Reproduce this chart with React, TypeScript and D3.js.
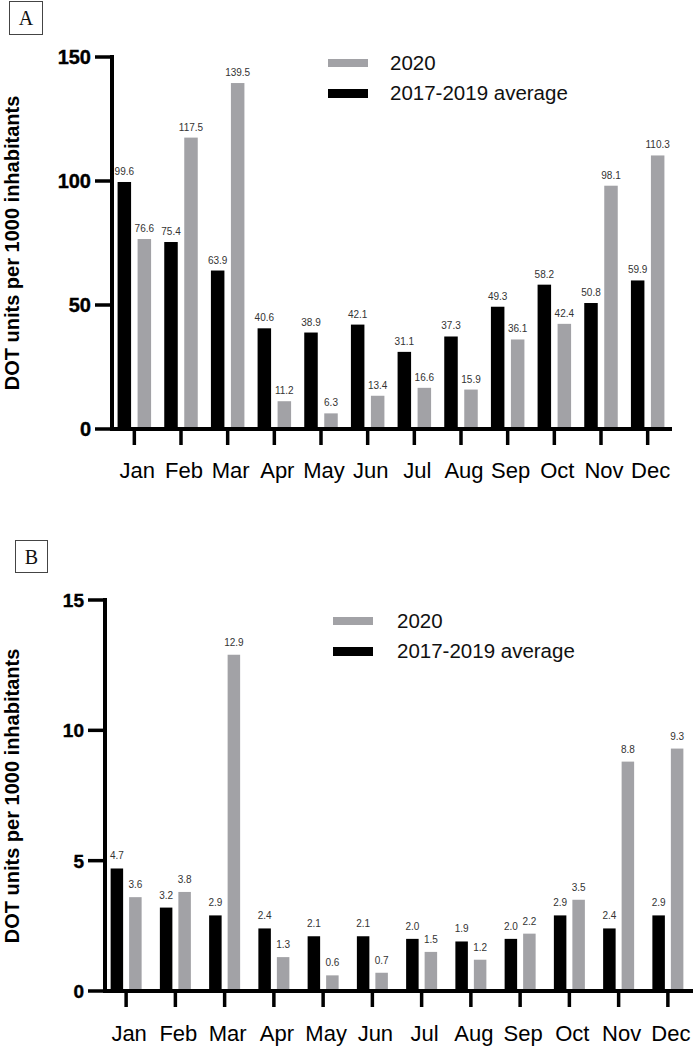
import React from "react";
import * as d3 from "d3";

const months = ["Jan", "Feb", "Mar", "Apr", "May", "Jun", "Jul", "Aug", "Sep", "Oct", "Nov", "Dec"];
const seriesNames = ["2020", "2017-2019 average"];

const avgA = [99.6, 75.4, 63.9, 40.6, 38.9, 42.1, 31.1, 37.3, 49.3, 58.2, 50.8, 59.9];
const y2020A = [76.6, 117.5, 139.5, 11.2, 6.3, 13.4, 16.6, 15.9, 36.1, 42.4, 98.1, 110.3];
const ticksA = [0, 50, 100, 150];

const avgB = [4.7, 3.2, 2.9, 2.4, 2.1, 2.1, 2.0, 1.9, 2.0, 2.9, 2.4, 2.9];
const y2020B = [3.6, 3.8, 12.9, 1.3, 0.6, 0.7, 1.5, 1.2, 2.2, 3.5, 8.8, 9.3];
const ticksB = [0, 5, 10, 15];

const GRAY = "#a2a2a6";
const FONT = "'Liberation Sans', Arial, sans-serif";

type PanelProps = {
  letter: string;
  letterBox: [number, number, number, number];
  avg: number[];
  cur: number[];
  ticks: number[];
  yMax: number;
  axisX: number;
  y0: number;
  yTop: number;
  xRange: [number, number];
  barW: number;
  gap: number;
  tickFont: number;
  tickLabelRight: number;
  titleCy: number;
  xLabelBaseline: number;
  legendX: number;
  legendY: number;
  legendTextX: number;
  labelGap: number;
};

function Panel(p: PanelProps) {
  const y = d3.scaleLinear().domain([0, p.yMax]).range([p.y0, p.yTop]);
  const x = d3.scaleBand<string>().domain(months).range(p.xRange).padding(0);
  const half = (p.barW * 2 + p.gap) / 2;
  const fmt = (v: number) => v.toFixed(1);
  return (
    <g>
      <rect x={p.letterBox[0]} y={p.letterBox[1]} width={p.letterBox[2]} height={p.letterBox[3]} fill="white" stroke="#444" strokeWidth={1} />
      <text x={p.letterBox[0] + p.letterBox[2] / 2} y={p.letterBox[1] + p.letterBox[3] / 2 + 7} textAnchor="middle" fontFamily="'Liberation Serif', 'Times New Roman', serif" fontSize={20} fill="#111">{p.letter}</text>

      <text transform={`translate(12,${p.titleCy}) rotate(-90)`} textAnchor="middle" dominantBaseline="central" fontFamily={FONT} fontWeight="bold" fontSize={20} fill="#000">DOT units per 1000 inhabitants</text>

      {months.map((m, i) => {
        const c = (x(m) as number) + x.bandwidth() / 2;
        const bx = c - half;
        const gx = c - half + p.barW + p.gap;
        return (
          <g key={m}>
            <rect x={bx} y={y(p.avg[i])} width={p.barW} height={p.y0 - y(p.avg[i])} fill="#000" />
            <rect x={gx} y={y(p.cur[i])} width={p.barW} height={p.y0 - y(p.cur[i])} fill={GRAY} />
            <text x={bx + p.barW / 2} y={y(p.avg[i]) - p.labelGap} textAnchor="middle" fontFamily={FONT} fontSize={10} fill="#333">{fmt(p.avg[i])}</text>
            <text x={gx + p.barW / 2} y={y(p.cur[i]) - p.labelGap} textAnchor="middle" fontFamily={FONT} fontSize={10} fill="#333">{fmt(p.cur[i])}</text>
            <line x1={c} x2={c} y1={p.y0} y2={p.y0 + 16} stroke="#000" strokeWidth={3.5} />
            <text x={c + 3} y={p.xLabelBaseline} textAnchor="middle" fontFamily={FONT} fontSize={22} fill="#000">{m}</text>
          </g>
        );
      })}

      <line x1={p.axisX} x2={p.axisX} y1={y(p.yMax) - 2} y2={p.y0 + 2} stroke="#000" strokeWidth={4} />
      <line x1={p.axisX - 2} x2={p.xRange[1] + 1} y1={p.y0} y2={p.y0} stroke="#000" strokeWidth={4} />
      {p.ticks.map((t) => (
        <g key={t}>
          <line x1={p.axisX - 17} x2={p.axisX} y1={y(t)} y2={y(t)} stroke="#000" strokeWidth={3.5} />
          <text x={p.tickLabelRight} y={y(t)} dy="0.36em" textAnchor="end" fontFamily={FONT} fontWeight="bold" fontSize={p.tickFont} fill="#000" stroke="#000" strokeWidth={0.4}>{t}</text>
        </g>
      ))}

      <rect x={p.legendX} y={p.legendY} width={40} height={8} fill={GRAY} />
      <rect x={p.legendX} y={p.legendY + 30} width={40} height={9} fill="#000" />
      <text x={p.legendTextX} y={p.legendY + 4} dy="0.36em" fontFamily={FONT} fontSize={20.5} fill="#111">{seriesNames[0]}</text>
      <text x={p.legendTextX} y={p.legendY + 34} dy="0.36em" fontFamily={FONT} fontSize={20.5} fill="#111">{seriesNames[1]}</text>
    </g>
  );
}

export default function App() {
  return (
    <svg width={693} height={1049} style={{ position: "absolute", left: 0, top: 0, background: "#fff" }}>
      <rect width={693} height={1049} fill="#fff" />
      <Panel
        letter="A"
        letterBox={[9.5, 1.5, 33, 33]}
        avg={avgA}
        cur={y2020A}
        ticks={ticksA}
        yMax={150}
        axisX={112}
        y0={429}
        yTop={57}
        xRange={[111, 671]}
        barW={13.5}
        gap={6.5}
        tickFont={20}
        tickLabelRight={91}
        titleCy={243}
        xLabelBaseline={478}
        legendX={328}
        legendY={59}
        legendTextX={390}
        labelGap={7}
      />
      <Panel
        letter="B"
        letterBox={[15.5, 540.5, 32, 32]}
        avg={avgB}
        cur={y2020B}
        ticks={ticksB}
        yMax={15}
        axisX={105}
        y0={991}
        yTop={600}
        xRange={[101.5, 692.5]}
        barW={12.5}
        gap={6}
        tickFont={19}
        tickLabelRight={84}
        titleCy={796}
        xLabelBaseline={1041}
        legendX={333}
        legendY={617}
        legendTextX={397}
        labelGap={9}
      />
    </svg>
  );
}
